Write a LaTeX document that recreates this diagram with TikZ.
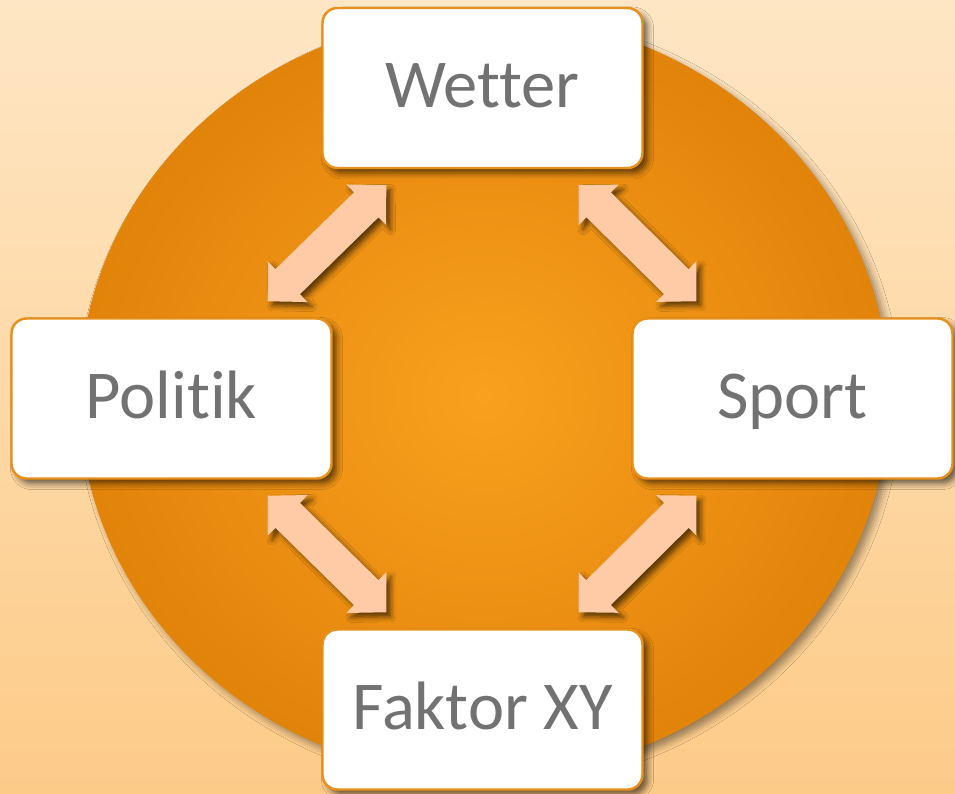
\documentclass[tikz,border=0pt]{standalone}
\usepackage{fontspec}
\setmainfont{Carlito}[Ligatures=NoCommon]
\usepackage{tikz}
\usetikzlibrary{calc,shadows.blur}

\definecolor{bgtop}{HTML}{FEE6C4}
\definecolor{bgbot}{HTML}{FDCB88}
\definecolor{discin}{HTML}{F9A11E}
\definecolor{discout}{HTML}{E2830A}
\definecolor{boxrim}{HTML}{E8901C}
\definecolor{arrowfill}{HTML}{FECBA6}
\definecolor{labelgrey}{HTML}{727272}

\begin{document}
\begin{tikzpicture}[topic/.style={draw=boxrim,line width=0.7pt,fill=white,
                      rounded corners=0.15cm,minimum width=3.2cm,minimum height=1.6cm,
                      text height=0.45cm,text depth=0.06cm,text=labelgrey,
                      font=\fontsize{19.5}{23}\selectfont,
                      blur shadow={shadow xshift=0.05cm,shadow yshift=-0.05cm,
                                   shadow blur radius=0.06cm,shadow opacity=60}},
                    link/.style={fill=arrowfill,
                      blur shadow={shadow xshift=0.045cm,shadow yshift=-0.045cm,
                                   shadow blur radius=0.05cm,shadow opacity=60},
                      to path={let \p1=($(\tikztostart)!0.28cm!(\tikztotarget)$),
                                   \p2=($(\tikztotarget)!0.28cm!(\tikztostart)$) in
                        -- ($(\p1)!0.285cm!90:(\tikztotarget)$)
                        -- ($(\p1)!0.175cm!90:(\tikztotarget)$)
                        -- ($(\p2)!0.175cm!-90:(\tikztostart)$)
                        -- ($(\p2)!0.285cm!-90:(\tikztostart)$)
                        -- (\tikztotarget)
                        -- ($(\p2)!0.285cm!90:(\tikztostart)$)
                        -- ($(\p2)!0.175cm!90:(\tikztostart)$)
                        -- ($(\p1)!0.175cm!-90:(\tikztotarget)$)
                        -- ($(\p1)!0.285cm!-90:(\tikztotarget)$)
                        -- cycle}}]
  \useasboundingbox (0,0) rectangle (9.55,7.93);
  \shade[top color=bgtop,bottom color=bgbot] (0,0) rectangle (9.55,7.93);

  \shade[inner color=discin,outer color=discout,
         blur shadow={shadow xshift=0.05cm,shadow yshift=-0.05cm,
                      shadow blur radius=0.07cm,shadow opacity=40}]
        (4.84,3.97) ellipse [x radius=4.05,y radius=3.81];

  \node[topic] (wet) at (4.825,7.05)  {Wetter};
  \node[topic] (pol) at (1.715,3.945) {Politik};
  \node[topic] (spo) at (7.925,3.945) {Sport};
  \node[topic] (fak) at (4.825,0.835) {Faktor XY};

  \coordinate (pw1) at ($(pol.north east)+(-0.65,0.16)$);
  \coordinate (pw2) at ($(wet.south west)+(0.65,-0.16)$);
  \coordinate (ws1) at ($(wet.south east)+(-0.65,-0.16)$);
  \coordinate (ws2) at ($(spo.north west)+(0.65,0.16)$);
  \coordinate (sf1) at ($(spo.south west)+(0.65,-0.16)$);
  \coordinate (sf2) at ($(fak.north east)+(-0.65,0.16)$);
  \coordinate (pf1) at ($(pol.south east)+(-0.65,-0.16)$);
  \coordinate (pf2) at ($(fak.north west)+(0.65,0.16)$);

  \path[link] (pw1) to (pw2);
  \path[link] (ws1) to (ws2);
  \path[link] (sf1) to (sf2);
  \path[link] (pf1) to (pf2);
\end{tikzpicture}
\end{document}
